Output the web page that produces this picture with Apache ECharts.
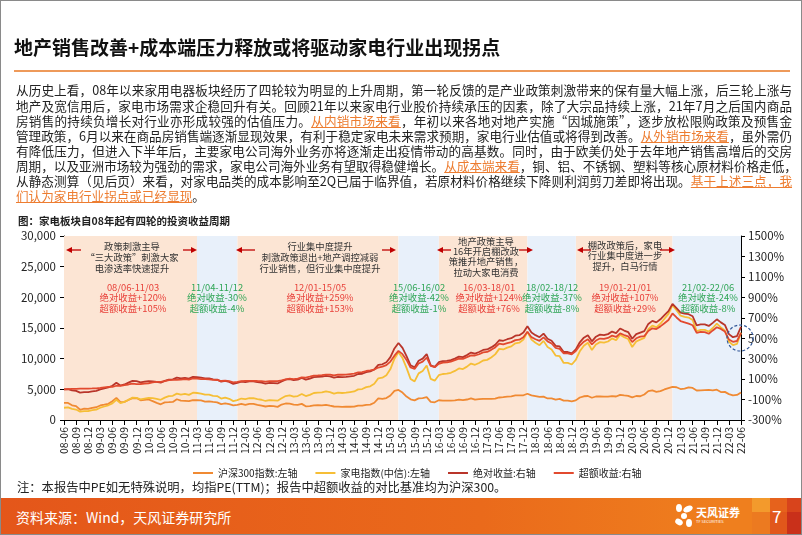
<!DOCTYPE html>
<html><head><meta charset="utf-8">
<script src="https://cdn.jsdelivr.net/npm/echarts@6/dist/echarts.min.js"></script>
<style>
html,body{margin:0;padding:0;background:#fff;}
#page{position:relative;width:802px;height:535px;overflow:hidden;font-family:"Noto Sans CJK SC",sans-serif;background:#fff;}
#chart{position:absolute;left:0;top:0;width:802px;height:535px;}
.a{position:absolute;white-space:nowrap;}
#title{left:14px;top:33px;font-size:19px;font-weight:bold;color:#111;line-height:28px;}
#rule{left:14px;top:70px;width:776px;height:2px;background:#EE9A5A;}
.pl{position:absolute;left:16px;width:776px;font-size:12.6px;line-height:15.1px;height:15.1px;color:#222;text-align:justify;text-align-last:justify;white-space:nowrap;}
.hl{color:#ED7D31;text-decoration:underline;}
#cap{left:18px;top:213px;font-size:10.5px;font-weight:bold;color:#222;line-height:15px;}
#note{left:17px;top:479px;font-size:12.3px;color:#222;line-height:16px;}
#foot{left:0;top:498px;width:802px;height:37px;background:linear-gradient(90deg,#E4561A 0%,#EA6A1B 60%,#EF7F1E 90%);}
#src{left:16px;top:507px;font-size:14px;color:#fff;line-height:20px;}
#border{position:absolute;left:0;top:0;width:802px;height:535px;box-sizing:border-box;border:1px solid #8a8a8a;pointer-events:none;}
</style></head>
<body>
<div id="page">
<div id="chart"></div>
<div class="a" id="title">地产销售改善+成本端压力释放或将驱动家电行业出现拐点</div>
<div class="a" id="rule"></div>
<div class="pl" style="top:82.4px">从历史上看，08年以来家用电器板块经历了四轮较为明显的上升周期，第一轮反馈的是产业政策刺激带来的保有量大幅上涨，后三轮上涨与</div>
<div class="pl" style="top:97.5px">地产及宽信用后，家电市场需求企稳回升有关。回顾21年以来家电行业股价持续承压的因素，除了大宗品持续上涨，21年7月之后国内商品</div>
<div class="pl" style="top:112.6px">房销售的持续负增长对行业亦形成较强的估值压力。<span class="hl">从内销市场来看</span>，年初以来各地对地产实施“因城施策”，逐步放松限购政策及预售金</div>
<div class="pl" style="top:127.7px">管理政策，6月以来在商品房销售端逐渐显现效果，有利于稳定家电未来需求预期，家电行业估值或将得到改善。<span class="hl">从外销市场来看</span>，虽外需仍</div>
<div class="pl" style="top:142.8px">有降低压力，但进入下半年后，主要家电公司海外业务亦将逐渐走出疫情带动的高基数。同时，由于欧美仍处于去年地产销售高增后的交房</div>
<div class="pl" style="top:157.9px">周期，以及亚洲市场较为强劲的需求，家电公司海外业务有望取得稳健增长。<span class="hl">从成本端来看</span>，铜、铝、不锈钢、塑料等核心原材料价格走低，</div>
<div class="pl" style="top:173.0px">从静态测算（见后页）来看，对家电品类的成本影响至2Q已届于临界值，若原材料价格继续下降则利润剪刀差即将出现。<span class="hl">基于上述三点，我</span></div>
<div class="pl" style="top:188.1px;text-align:left;text-align-last:left;"><span class="hl">们认为家电行业拐点或已经显现</span>。</div>
<div class="a" id="cap">图：家电板块自08年起有四轮的投资收益周期</div>
<div class="a" id="note">注：本报告中PE如无特殊说明，均指PE(TTM)；报告中超额收益的对比基准均为沪深300。</div>
<div class="a" id="foot"></div>
<div class="a" style="left:752px;top:498px;width:18px;height:14px;background:#F39A2C"></div>
<div class="a" style="left:770px;top:498px;width:17px;height:14px;background:#E6621C"></div>
<div class="a" style="left:787px;top:498px;width:15px;height:14px;background:#D8441C"></div>
<div class="a" style="left:752px;top:512px;width:18px;height:23px;background:#EC7A20"></div>
<div class="a" style="left:770px;top:512px;width:17px;height:23px;background:#E1571B"></div>
<div class="a" style="left:787px;top:512px;width:15px;height:23px;background:#C9301A"></div>
<div class="a" id="src">资料来源：Wind，天风证券研究所</div>
<svg class="a" style="left:674px;top:503px" width="20" height="26" viewBox="0 0 20 26">
<ellipse cx="5" cy="5" rx="3" ry="4" fill="#fff"/>
<ellipse cx="14" cy="6" rx="5" ry="3" fill="#fff" transform="rotate(-25 14 6)"/>
<ellipse cx="10" cy="13" rx="3" ry="3" fill="#fff"/>
<ellipse cx="5" cy="19" rx="4" ry="3" fill="#fff" transform="rotate(30 5 19)"/>
<ellipse cx="15" cy="20" rx="3" ry="4" fill="#fff"/>
</svg>
<div class="a" style="left:696px;top:505px;font-size:11px;font-weight:bold;color:#fff;line-height:14px;">天风证券</div>
<div class="a" style="left:696px;top:519px;font-size:4px;color:#fff;line-height:5px;">TF SECURITIES</div>
<div class="a" style="left:772px;top:505px;font-size:17px;color:#fff;line-height:22px;">7</div>
<div id="border"></div>
</div>
<script>
const categories = [
'08-06','08-07','08-08','08-09','08-10','08-11','08-12',
'09-01','09-02','09-03','09-04','09-05','09-06','09-07','09-08','09-09','09-10','09-11','09-12',
'10-01','10-02','10-03','10-04','10-05','10-06','10-07','10-08','10-09','10-10','10-11','10-12',
'11-01','11-02','11-03','11-04','11-05','11-06','11-07','11-08','11-09','11-10','11-11','11-12',
'12-01','12-02','12-03','12-04','12-05','12-06','12-07','12-08','12-09','12-10','12-11','12-12',
'13-01','13-02','13-03','13-04','13-05','13-06','13-07','13-08','13-09','13-10','13-11','13-12',
'14-01','14-02','14-03','14-04','14-05','14-06','14-07','14-08','14-09','14-10','14-11','14-12',
'15-01','15-02','15-03','15-04','15-05','15-06','15-07','15-08','15-09','15-10','15-11','15-12',
'16-01','16-02','16-03','16-04','16-05','16-06','16-07','16-08','16-09','16-10','16-11','16-12',
'17-01','17-02','17-03','17-04','17-05','17-06','17-07','17-08','17-09','17-10','17-11','17-12',
'18-01','18-02','18-03','18-04','18-05','18-06','18-07','18-08','18-09','18-10','18-11','18-12',
'19-01','19-02','19-03','19-04','19-05','19-06','19-07','19-08','19-09','19-10','19-11','19-12',
'20-01','20-02','20-03','20-04','20-05','20-06','20-07','20-08','20-09','20-10','20-11','20-12',
'21-01','21-02','21-03','21-04','21-05','21-06','21-07','21-08','21-09','21-10','21-11','21-12',
'22-01','22-02','22-03','22-04','22-05','22-06'];

const hs300 = [2780,2780,2400,2250,1670,1840,1820,
1990,2080,2370,2500,2640,3070,3610,2900,2950,3270,3540,3580,
3210,3280,3350,3070,2790,2560,2870,2900,2940,3380,3150,3130,
3080,3240,3220,3200,3000,3040,2940,2880,2600,2700,2570,2380,
2460,2630,2450,2630,2630,2460,2330,2200,2290,2250,2140,2520,
2690,2670,2500,2480,2630,2230,2270,2390,2410,2390,2470,2330,
2200,2180,2150,2160,2160,2170,2350,2330,2450,2510,2810,3530,
3430,3570,3990,4750,4900,4470,3820,3370,3200,3530,3570,3730,
2950,2890,3220,3160,3170,3150,3200,3320,3250,3340,3540,3310,
3390,3450,3460,3440,3490,3670,3740,3820,3840,4000,4010,4030,
4280,4020,3900,3760,3800,3510,3520,3330,3440,3150,3170,3040,
3200,3670,3870,3910,3630,3830,3840,3800,3810,3890,3830,4100,
4000,3940,3690,3910,3870,4160,4700,4820,4590,4700,4980,5210,
5400,5340,5050,5120,5330,5220,4810,4830,4870,4910,4830,4940,
4560,4580,4220,4020,4090,4480];

const homeAppl = [2000,2050,1800,1700,1350,1450,1450,
1600,1700,2000,2200,2400,2700,3300,2750,2950,3300,3650,3600,
3350,3500,3600,3550,3450,3300,3650,3900,3950,4300,4150,4250,
4100,4450,4400,4300,4150,4150,3950,3900,3500,3650,3450,3080,
3250,3500,3400,3550,3550,3400,3300,3100,3250,3200,3150,3550,
3900,4000,3800,3900,4250,3900,4100,4400,4450,4500,4650,4550,
4300,4450,4400,4450,4550,4650,5000,5050,5350,5500,5900,6800,
6900,7300,8300,10000,11060,10100,8500,6700,6300,7600,8000,8900,
6700,6410,7300,7500,7550,7700,8000,8400,8300,8700,9200,9000,
9300,9700,9800,10200,10700,11600,11500,11800,12000,12500,12600,13100,
14360,13100,12600,12200,12900,11900,11500,10500,10400,9300,9300,9050,
9800,11200,12100,12600,11400,12300,12700,12600,12800,13300,13000,13900,
13500,13200,11900,12800,13100,13400,14800,15400,15100,15700,16500,17300,
18730,17900,17000,16800,16700,16300,14500,14700,14700,14400,15000,15700,
15100,14600,12800,12200,12400,14240];

const absRet = [0,2.5,-10,-15,-32.5,-27.5,-27.5,
-20,-15,0,10,20,35,65,37.5,47.5,65,82.5,80,
67.5,75,80,77.5,72.5,65,82.5,95,97.5,115,107.5,112.5,
105,122.5,120,115,107.5,107.5,97.5,95,75,82.5,72.5,54,
62.5,75,70,77.5,77.5,70,65,55,62.5,60,57.5,77.5,
95,100,90,95,112.5,95,105,120,122.5,125,132.5,127.5,
115,122.5,120,122.5,127.5,132.5,150,152.5,167.5,175,195,240,
245,265,315,400,453,405,325,235,215,280,300,345,
235,220.5,265,275,277.5,285,300,320,315,335,360,350,
365,385,390,410,435,480,475,490,500,525,530,555,
618,555,530,510,545,495,475,425,420,365,365,352.5,
390,460,505,530,470,515,535,530,540,565,550,595,
575,560,495,540,555,570,640,670,655,685,725,765,
836.5,795,750,740,735,715,625,635,635,620,650,685,
655,630,540,510,520,612];

const excessRet = [0,2.5,3.7,4.1,7.4,6.3,7.0,
8.4,10.2,14.7,20.1,25.0,24.6,35.1,33.2,41.4,47.4,55.2,51.2,
52.0,57.0,59.5,67.1,72.1,72.9,79.3,90.7,91.7,93.4,94.2,99.9,
94.2,106.0,104.2,99.9,99.6,98.1,91.7,91.4,81.5,85.4,80.1,68.4,
74.0,80.4,81.9,82.9,82.9,81.5,81.2,75.9,80.1,79.1,80.5,86.9,
98.2,104.0,100.1,105.8,117.9,114.8,123.3,134.0,135.8,139.0,143.7,143.7,
135.9,144.1,142.7,144.8,149.8,154.4,165.5,168.7,179.4,184.7,193.9,213.0,
221.6,236.6,271.5,329.1,376.7,344.2,287.6,213.8,199.9,253.0,271.6,310.8,
228.9,216.5,249.2,261.3,263.5,271.7,284.9,300.6,298.1,314.9,332.7,330.9,
343.1,360.9,365.5,386.3,409.5,448.0,440.5,452.6,461.9,481.1,485.8,510.0,
564.0,510.4,489.7,474.7,508.3,468.7,448.4,405.2,396.3,351.7,351.0,343.1,
374.9,428.0,465.8,489.4,439.4,477.2,496.9,493.3,502.9,525.1,512.2,547.5,
531.1,518.3,462.3,499.4,515.8,520.4,570.9,596.6,589.9,615.9,645.9,677.6,
742.3,702.9,668.3,655.8,643.3,627.2,552.0,561.3,559.8,543.4,576.3,607.3,
591.0,565.3,488.2,465.4,472.9,550.8];

const seriesNames = ['沪深300指数:左轴','家电指数(中信):左轴','绝对收益:右轴','超额收益:右轴'];
const upBands = [['08-06','11-03'],['12-01','15-05'],['16-03','18-01'],['19-01','21-01']];
const downBands = [['11-03','12-01'],['15-05','16-03'],['18-01','19-01'],['21-01','22-06']];
const periodLabels = [
  ['08/06-11/03','绝对收益+120%','超额收益+105%'],
  ['11/04-11/12','绝对收益-30%','超额收益-4%'],
  ['12/01-15/05','绝对收益+259%','超额收益+153%'],
  ['15/06-16/02','绝对收益-42%','超额收益-1%'],
  ['16/03-18/01','绝对收益+124%','超额收益+76%'],
  ['18/02-18/12','绝对收益-37%','超额收益-8%'],
  ['19/01-21/01','绝对收益+107%','超额收益+29%'],
  ['21/02-22/06','绝对收益-24%','超额收益-8%']];
const notes = [
  ['政策刺激主导','“三大政策”刺激大家','电渗透率快速提升'],
  ['行业集中度提升','刺激政策退出+地产调控减弱','行业销售，但行业集中度提升'],
  ['地产政策主导','16年开启棚改政','策推升地产销售，','拉动大家电消费'],
  ['棚改政策后，家电','行业集中度进一步','提升，白马行情']];

const FONT = '"Noto Sans CJK SC", sans-serif';
const periodX = [133,217,320,419,489,552,625,708];
const noteLayout = [{x:132,y:246,lh:11},{x:320,y:246,lh:11},{x:486,y:241.5,lh:10.2},{x:625,y:245,lh:10.5}];
const arrowsL = [[66,81],[236,255],[437,451],[577,591]];
const arrowsR = [[183,197],[382,396],[519,533],[660,675]];

const graphic = [];
periodLabels.forEach((lines, i) => {
  const col = i % 2 === 0 ? '#E8413A' : '#2FA556';
  lines.forEach((t, j) => {
    graphic.push({type:'text', silent:true, z:100, style:{x:periodX[i], y:287 + j*10.8, text:t, textAlign:'center', textVerticalAlign:'middle', font:'9.4px ' + FONT, fill:col}});
  });
});
notes.forEach((lines, i) => {
  const L = noteLayout[i];
  lines.forEach((t, j) => {
    graphic.push({type:'text', silent:true, z:100, style:{x:L.x, y:L.y + j*L.lh, text:t, textAlign:'center', textVerticalAlign:'middle', font:'9.3px ' + FONT, fill:'#333'}});
  });
});
const AC = '#C00000';
arrowsL.forEach(a => {
  graphic.push({type:'line', silent:true, z:100, shape:{x1:a[0]+4, y1:250, x2:a[1], y2:250}, style:{stroke:AC, lineWidth:1.3}});
  graphic.push({type:'polygon', silent:true, z:100, shape:{points:[[a[0],250],[a[0]+6,247],[a[0]+6,253]]}, style:{fill:AC}});
});
arrowsR.forEach(a => {
  graphic.push({type:'line', silent:true, z:100, shape:{x1:a[0], y1:250, x2:a[1]-4, y2:250}, style:{stroke:AC, lineWidth:1.3}});
  graphic.push({type:'polygon', silent:true, z:100, shape:{points:[[a[1],250],[a[1]-6,247],[a[1]-6,253]]}, style:{fill:AC}});
});
graphic.push({type:'circle', silent:true, z:100, shape:{cx:740, cy:338, r:13}, style:{fill:'none', stroke:'#2F5597', lineWidth:1.2, lineDash:[3,2]}});

const areaData = [];
upBands.forEach(b => areaData.push([{xAxis:b[0], itemStyle:{color:'#FCE5D4'}},{xAxis:b[1]}]));
downBands.forEach(b => areaData.push([{xAxis:b[0], itemStyle:{color:'#E8F0FA'}},{xAxis:b[1]}]));

const chart = echarts.init(document.getElementById('chart'), null, {renderer:'canvas'});
const axisLbl = {fontSize:11.5, color:'#222', fontFamily:FONT};
chart.setOption({
  animation:false,
  textStyle:{fontFamily:FONT},
  grid:{left:64, right:61, top:236, bottom:115, containLabel:false},
  legend:{
    data:seriesNames, left:188, top:463, itemWidth:20, itemHeight:2, itemGap:18, icon:'rect',
    textStyle:{fontSize:10, color:'#222', fontFamily:FONT}
  },
  xAxis:{
    type:'category', data:categories, boundaryGap:false,
    axisLine:{lineStyle:{color:'#000', width:1}},
    axisTick:{show:true, interval:2, length:5, lineStyle:{color:'#000'}},
    axisLabel:Object.assign({interval:2, rotate:90, margin:7}, axisLbl, {fontSize:10.5}),
    splitLine:{show:false}
  },
  yAxis:[
    {type:'value', min:0, max:30000, interval:5000,
     axisLine:{show:true, lineStyle:{color:'#000'}},
     axisTick:{show:true, length:4, lineStyle:{color:'#000'}},
     axisLabel:Object.assign({margin:8, formatter:v => v.toLocaleString('en-US')}, axisLbl),
     splitLine:{show:false}},
    {type:'value', min:-300, max:1500, interval:200, position:'right',
     axisLine:{show:true, lineStyle:{color:'#000'}},
     axisTick:{show:true, length:4, lineStyle:{color:'#000'}},
     axisLabel:Object.assign({margin:7, formatter:v => v + '%'}, axisLbl),
     splitLine:{show:false}}
  ],
  series:[
    {name:seriesNames[0], type:'line', data:hs300, yAxisIndex:0, showSymbol:false, lineStyle:{width:1.8, color:'#F08A33'}, itemStyle:{color:'#F08A33'},
     markArea:{silent:true, data:areaData}},
    {name:seriesNames[1], type:'line', data:homeAppl, yAxisIndex:0, showSymbol:false, lineStyle:{width:1.8, color:'#F6BE36'}, itemStyle:{color:'#F6BE36'}},
    {name:seriesNames[2], type:'line', data:absRet, yAxisIndex:1, showSymbol:false, lineStyle:{width:1.8, color:'#B9352A'}, itemStyle:{color:'#B9352A'}},
    {name:seriesNames[3], type:'line', data:excessRet, yAxisIndex:1, showSymbol:false, lineStyle:{width:1.8, color:'#E24A2F'}, itemStyle:{color:'#E24A2F'}}
  ],
  graphic:graphic
});
</script>
</body></html>
